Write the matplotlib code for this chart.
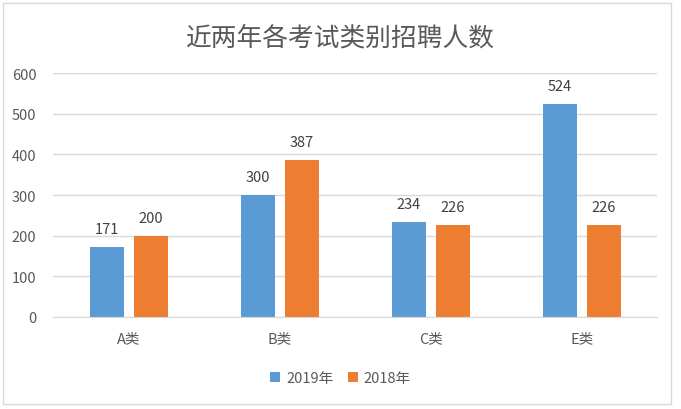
import numpy as np
import matplotlib.pyplot as plt
from matplotlib.patches import Rectangle

plt.rcParams['font.family'] = ['Noto Sans CJK SC', 'DejaVu Sans']

# 数据
categories = ['A类', 'B类', 'C类', 'E类']
series_names = ['2019年', '2018年']
values_2019 = [171, 300, 234, 524]
values_2018 = [200, 387, 226, 226]
yticks = [0, 100, 200, 300, 400, 500, 600]

blue = '#5B9BD5'
orange = '#ED7D31'
text_gray = '#595959'

fig = plt.figure(figsize=(6.81, 4.10), dpi=100)
ax = fig.add_axes([0.078, 0.2244, 0.887, 0.5951])

x = np.arange(len(categories))
w = 0.225
off = 0.145
b1 = ax.bar(x - off, values_2019, w, color=blue, label=series_names[0])
b2 = ax.bar(x + off, values_2018, w, color=orange, label=series_names[1])

for bars in (b1, b2):
    for r in bars:
        ax.annotate(str(int(r.get_height())), (r.get_x() + r.get_width() / 2, r.get_height()),
                    xytext=(0, 8), textcoords='offset points', ha='center', va='bottom',
                    fontsize=10.5, color='#404040')

ax.set_xlim(-0.5, len(categories) - 0.5)
ax.set_ylim(0, 600)
ax.set_yticks(yticks)
ax.set_xticks(x)
ax.set_xticklabels(categories)
ax.grid(axis='y', color='#D9D9D9', linewidth=1)
ax.set_axisbelow(True)
for s in ['top', 'right', 'left']:
    ax.spines[s].set_visible(False)
ax.spines['bottom'].set_color('#D9D9D9')
ax.tick_params(axis='both', length=0, labelsize=10.5, colors=text_gray)
ax.tick_params(axis='x', pad=10)
ax.tick_params(axis='y', pad=12)

fig.text(0.5, 0.907, '近两年各考试类别招聘人数', ha='center', va='center',
         fontsize=18.5, color=text_gray)

fig.legend(handles=[b1, b2], loc='center', bbox_to_anchor=(0.5, 0.075), ncol=2,
           frameon=False, fontsize=10.5, handlelength=0.7, handleheight=0.7,
           handletextpad=0.4, columnspacing=1.0, labelcolor=text_gray)

fig.patches.append(Rectangle((0.005, 0.012), 0.98, 0.978, transform=fig.transFigure,
                             fill=False, edgecolor='#D9D9D9', linewidth=1))

fig.savefig('out.png', dpi=100)
